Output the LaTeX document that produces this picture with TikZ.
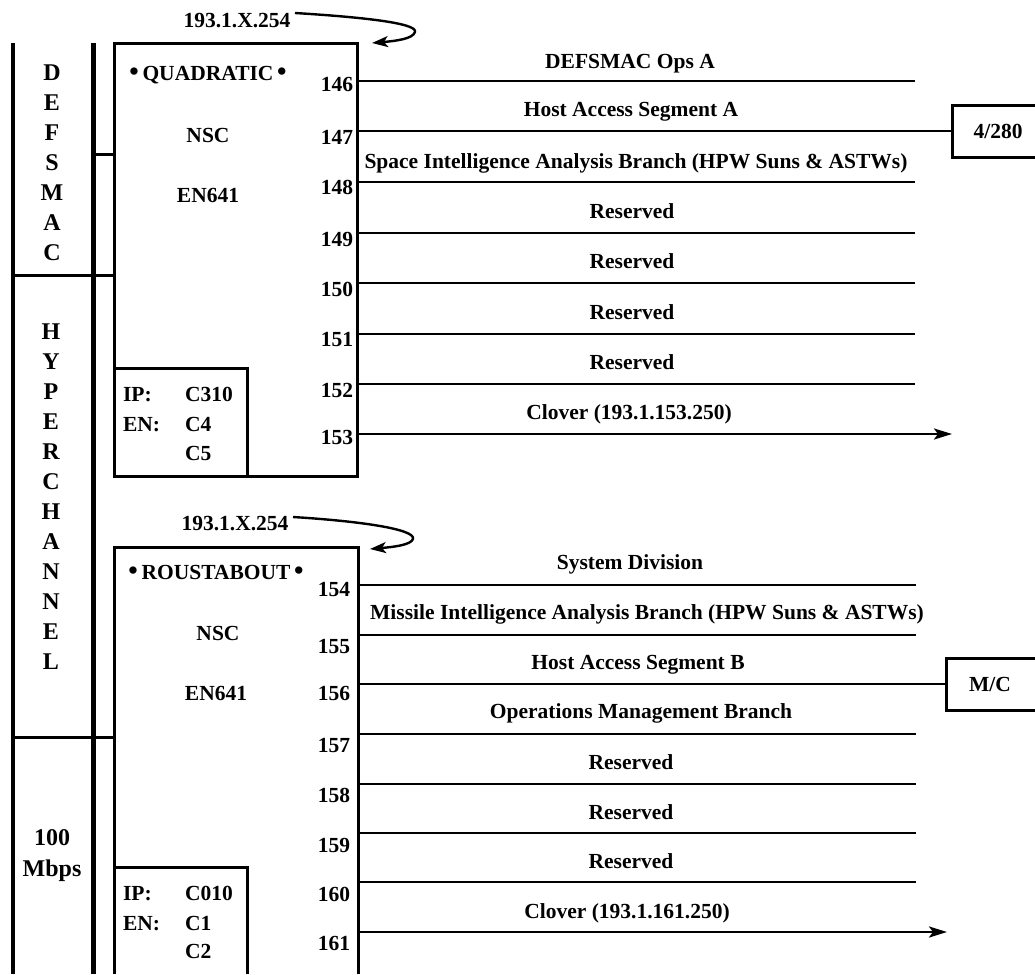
\documentclass[tikz,border=0pt]{standalone}
\usepackage{fontspec}
\setmainfont{Liberation Serif}
\usetikzlibrary{arrows.meta}
\newcommand{\bigdot}{{\fontsize{27pt}{27pt}\selectfont\textbullet}}
\tikzset{
  txt/.style={font=\fontsize{21.5pt}{24pt}\selectfont\bfseries, inner sep=0pt, outer sep=0pt, text height=14pt, text depth=0pt},
  num/.style={txt, anchor=east},
  iptxt/.style={txt, anchor=west},
  col/.style={font=\fontsize{24pt}{26pt}\selectfont\bfseries, inner sep=0pt, outer sep=0pt, text height=16pt, text depth=0pt},
  ln/.style={line width=2.6pt},
  bx/.style={line width=3pt},
  boxn/.style={bx, inner sep=0pt, outer sep=0pt, anchor=north west},
  sidebox/.style={txt, anchor=west, minimum height=52pt},
  arr/.style={ln, -{Stealth[length=18pt,width=11pt,inset=4pt]}},
  carr/.style={line width=2.4pt, -{Stealth[length=16pt,width=11pt,inset=4pt]}},
}
\begin{document}
\begin{tikzpicture}[x=1pt,y=-1pt]
\useasboundingbox (0,0) rectangle (1035,974);
\coordinate (rx) at (1035,0);
% left buses
\draw[line width=3.5pt] (13,43) -- (13,974);
\draw[line width=5pt] (93,43) -- (93,974);
% column labels
\foreach \l [count=\i] in {D,E,F,S,M,A,C}
  \node[col] (d\i) at (52,42+30*\i) {\l};
\foreach \l [count=\i] in {H,Y,P,E,R,C,H,A,N,N,E,L}
  \node[col] (h\i) at (51,301+30*\i) {\l};
\node[col] (m100) at (52,837) {100};
\node[col] (mbps) at (52,868) {Mbps};

% ---------- QUADRATIC box ----------
\node[boxn, draw, minimum width=243pt, minimum height=432pt] (q1) at (114,44) {};
\node[boxn, draw, minimum width=133pt, minimum height=108pt] (ipq) at (114,368) {};
\draw[bx] (13,275) -- (q1.west |- 0,275);
\draw[bx] (93,154) -- (q1.west |- 0,154);
\node[txt] (qname) at (208,73) {\bigdot\,QUADRATIC\,\bigdot};
\node[txt] (qnsc) at (208,135) {NSC};
\node[txt] (qen) at (208,195) {EN641};
\node[iptxt] (qip) at (123,394) {IP:};
\node[iptxt] (qipv) at (185,394) {C310};
\node[iptxt] (qenl) at (123,424) {EN:};
\node[iptxt] (qen1) at (185,424) {C4};
\node[iptxt] (qen2) at (185,453) {C5};

% address arrow 1
\node[txt] (a1) at (237,21) {193.1.X.254};
\coordinate (a1s) at (295,13);
\coordinate (a1t) at (372,43);
\draw[carr] (a1s) .. controls (360,17) and (418,23) .. (415,32) .. controls (413,39) and (395,41) .. (a1t);

% port numbers (top)
\foreach \n/\y in {146/84,147/137,148/187,149/239,150/289,151/339,152/390,153/437}
  \node[num] (p\n) at (353,\y) {\n};

% line ends (top)
\foreach \n/\y in {146/81,148/182,149/233,150/283,151/334,152/384}
  \coordinate (e\n) at (915,\y);
\coordinate (e153) at (952,434);
\node[sidebox, minimum width=92pt] (b1) at (952,131) {4/280};
\draw[bx] (b1.north west -| rx) -- (b1.north west) -- (b1.south west) -- (b1.south west -| rx);

\foreach \n in {146,148,149,150,151,152}
  \draw[ln] (q1.east |- e\n) -- (e\n);
\draw[ln] (q1.east |- b1.west) -- (b1.west);
\draw[arr] (q1.east |- e153) -- (e153);

% labels (top)
\node[txt] (l146) at (630,61) {DEFSMAC Ops A};
\node[txt] (l147) at (631,109) {Host Access Segment A};
\node[txt] (l148) at (636,161) {Space Intelligence Analysis Branch (HPW Suns \& ASTWs)};
\node[txt] (l149) at (632,211) {Reserved};
\node[txt] (l150) at (632,261) {Reserved};
\node[txt] (l151) at (632,312) {Reserved};
\node[txt] (l152) at (632,362) {Reserved};
\node[txt] (l153) at (629,412) {Clover (193.1.153.250)};

% ---------- ROUSTABOUT box ----------
\node[boxn, minimum width=244pt, minimum height=427pt] (r1) at (114,547) {};
\draw[bx] (r1.south west) -- (r1.north west) -- (r1.north east) -- (r1.south east);
\node[boxn, minimum width=133pt, minimum height=107pt] (ipr) at (114,867) {};
\draw[bx] (ipr.south west) -- (ipr.north west) -- (ipr.north east) -- (ipr.south east);
\draw[bx] (13,737) -- (r1.west |- 0,737);
\node[txt] (rname) at (216,572) {\bigdot\,ROUSTABOUT\,\bigdot};
\node[txt] (rnsc) at (218,633) {NSC};
\node[txt] (ren) at (216,693) {EN641};
\node[iptxt] (rip) at (123,893) {IP:};
\node[iptxt] (ripv) at (185,893) {C010};
\node[iptxt] (renl) at (123,923) {EN:};
\node[iptxt] (ren1) at (185,923) {C1};
\node[iptxt] (ren2) at (185,951) {C2};

% address arrow 2
\node[txt] (a2) at (235,523) {193.1.X.254};
\coordinate (a2s) at (293,517);
\coordinate (a2t) at (370,549);
\draw[carr] (a2s) .. controls (358,521) and (416,529) .. (413,539) .. controls (411,545) and (393,547) .. (a2t);

% port numbers (bottom)
\foreach \n/\y in {154/589,155/646,156/693,157/745,158/795,159/845,160/894,161/943}
  \node[num] (p\n) at (350,\y) {\n};

% line ends (bottom)
\foreach \n/\y in {154/585,155/635,157/734,158/784,159/833,160/882}
  \coordinate (e\n) at (916,\y);
\coordinate (e161) at (947,932);
\node[sidebox, minimum width=88pt] (m1) at (946,684) {M/C};
\draw[bx] (m1.north west -| rx) -- (m1.north west) -- (m1.south west) -- (m1.south west -| rx);

\foreach \n in {154,155,157,158,159,160}
  \draw[ln] (r1.east |- e\n) -- (e\n);
\draw[ln] (r1.east |- m1.west) -- (m1.west);
\draw[arr] (r1.east |- e161) -- (e161);

% labels (bottom)
\node[txt] (l154) at (630,562) {System Division};
\node[txt] (l155) at (647,612) {Missile Intelligence Analysis Branch (HPW Suns \& ASTWs)};
\node[txt] (l156) at (638,662) {Host Access Segment B};
\node[txt] (l157) at (641,711) {Operations Management Branch};
\node[txt] (l158) at (631,762) {Reserved};
\node[txt] (l159) at (631,812) {Reserved};
\node[txt] (l160) at (631,861) {Reserved};
\node[txt] (l161) at (627,911) {Clover (193.1.161.250)};
\end{tikzpicture}
\end{document}
